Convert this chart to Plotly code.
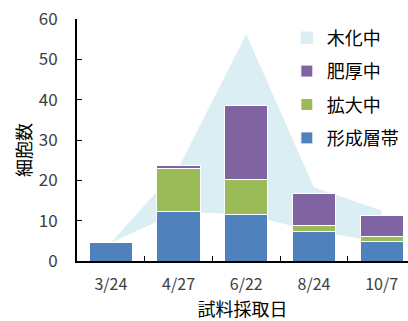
import plotly.graph_objects as go

# Sampling dates and cell counts per developmental zone
dates = ["3/24", "4/27", "6/22", "8/24", "10/7"]
cambium = [4.5, 12.2, 11.5, 7.4, 4.8]        # 形成層帯
expanding = [0, 10.8, 8.8, 1.5, 1.2]          # 拡大中
thickening = [0, 0.6, 18.2, 7.9, 5.3]         # 肥厚中
lignifying = [0, 10.9, 44.7, 10.8, 7.7]       # 木化中 (stacked on 形成層帯)

C_BLUE = "#4F81BD"
C_GREEN = "#9BBB59"
C_PURPLE = "#8064A2"
C_AQUA = "#DAEEF3"
FONT = "Noto Sans CJK JP"
X_RANGE = [-0.5, 4.389]
Y_RANGE = [0, 60]

fig = go.Figure()

# Background area on the base axes: 木化中 stacked above the 形成層帯 counts
fig.add_trace(go.Scatter(
    x=dates, y=cambium, stackgroup="wood", mode="none",
    fillcolor="rgba(0,0,0,0)", showlegend=False, hoverinfo="skip",
))
fig.add_trace(go.Scatter(
    x=dates, y=lignifying, stackgroup="wood", mode="none",
    fillcolor=C_AQUA, showlegend=False, name="木化中",
))

# Stacked bars on the overlaying axes so they sit in front of the area
bar_line = dict(color="white", width=1)
fig.add_trace(go.Bar(
    x=[None], y=[None], name="木化中", marker=dict(color=C_AQUA),
    legendgroup="a", legendrank=1, xaxis="x2", yaxis="y2",
))
fig.add_trace(go.Bar(x=dates, y=cambium, name="形成層帯",
                     marker=dict(color=C_BLUE, line=bar_line),
                     legendgroup="d", legendrank=4, xaxis="x2", yaxis="y2"))
fig.add_trace(go.Bar(x=dates, y=expanding, name="拡大中",
                     marker=dict(color=C_GREEN, line=bar_line),
                     legendgroup="c", legendrank=3, xaxis="x2", yaxis="y2"))
fig.add_trace(go.Bar(x=dates, y=thickening, name="肥厚中",
                     marker=dict(color=C_PURPLE, line=bar_line),
                     legendgroup="b", legendrank=2, xaxis="x2", yaxis="y2"))

fig.update_layout(
    width=408, height=321,
    margin=dict(l=77, r=0, t=19, b=60),
    paper_bgcolor="white", plot_bgcolor="white",
    barmode="stack", bargap=0.36,
    font=dict(family=FONT, color="#000000"),
    showlegend=True,
    legend=dict(
        x=0.634, y=0.998, xanchor="left", yanchor="top",
        traceorder="grouped", tracegroupgap=7,
        font=dict(family=FONT, size=18, color="#000000"),
        bgcolor="rgba(0,0,0,0)",
    ),
    xaxis=dict(type="category", range=X_RANGE, visible=False),
    yaxis=dict(range=Y_RANGE, visible=False),
    xaxis2=dict(
        type="category", range=X_RANGE, overlaying="x", side="bottom",
        showline=True, linecolor="black", linewidth=2,
        ticks="inside", tickson="boundaries", ticklen=5, tickcolor="black", tickwidth=1,
        tickfont=dict(family=FONT, size=16, color="#404040"),
        ticklabelstandoff=8,
        showgrid=False, zeroline=False,
        title=dict(text="試料採取日", font=dict(family=FONT, size=18, color="#000000"), standoff=6),
    ),
    yaxis2=dict(
        range=Y_RANGE, dtick=10, overlaying="y", side="left",
        showline=True, linecolor="black", linewidth=2,
        ticks="inside", ticklen=5, tickcolor="black", tickwidth=1,
        tickfont=dict(family=FONT, size=17, color="#404040"),
        ticklabelstandoff=14,
        showgrid=False, zeroline=False,
    ),
    annotations=[dict(
        text="細胞数", textangle=-90, xref="paper", yref="paper",
        x=-0.165, y=0.46, xanchor="center", yanchor="middle", showarrow=False,
        font=dict(family=FONT, size=18, color="#000000"),
    )],
)

fig.write_html("out.html")
